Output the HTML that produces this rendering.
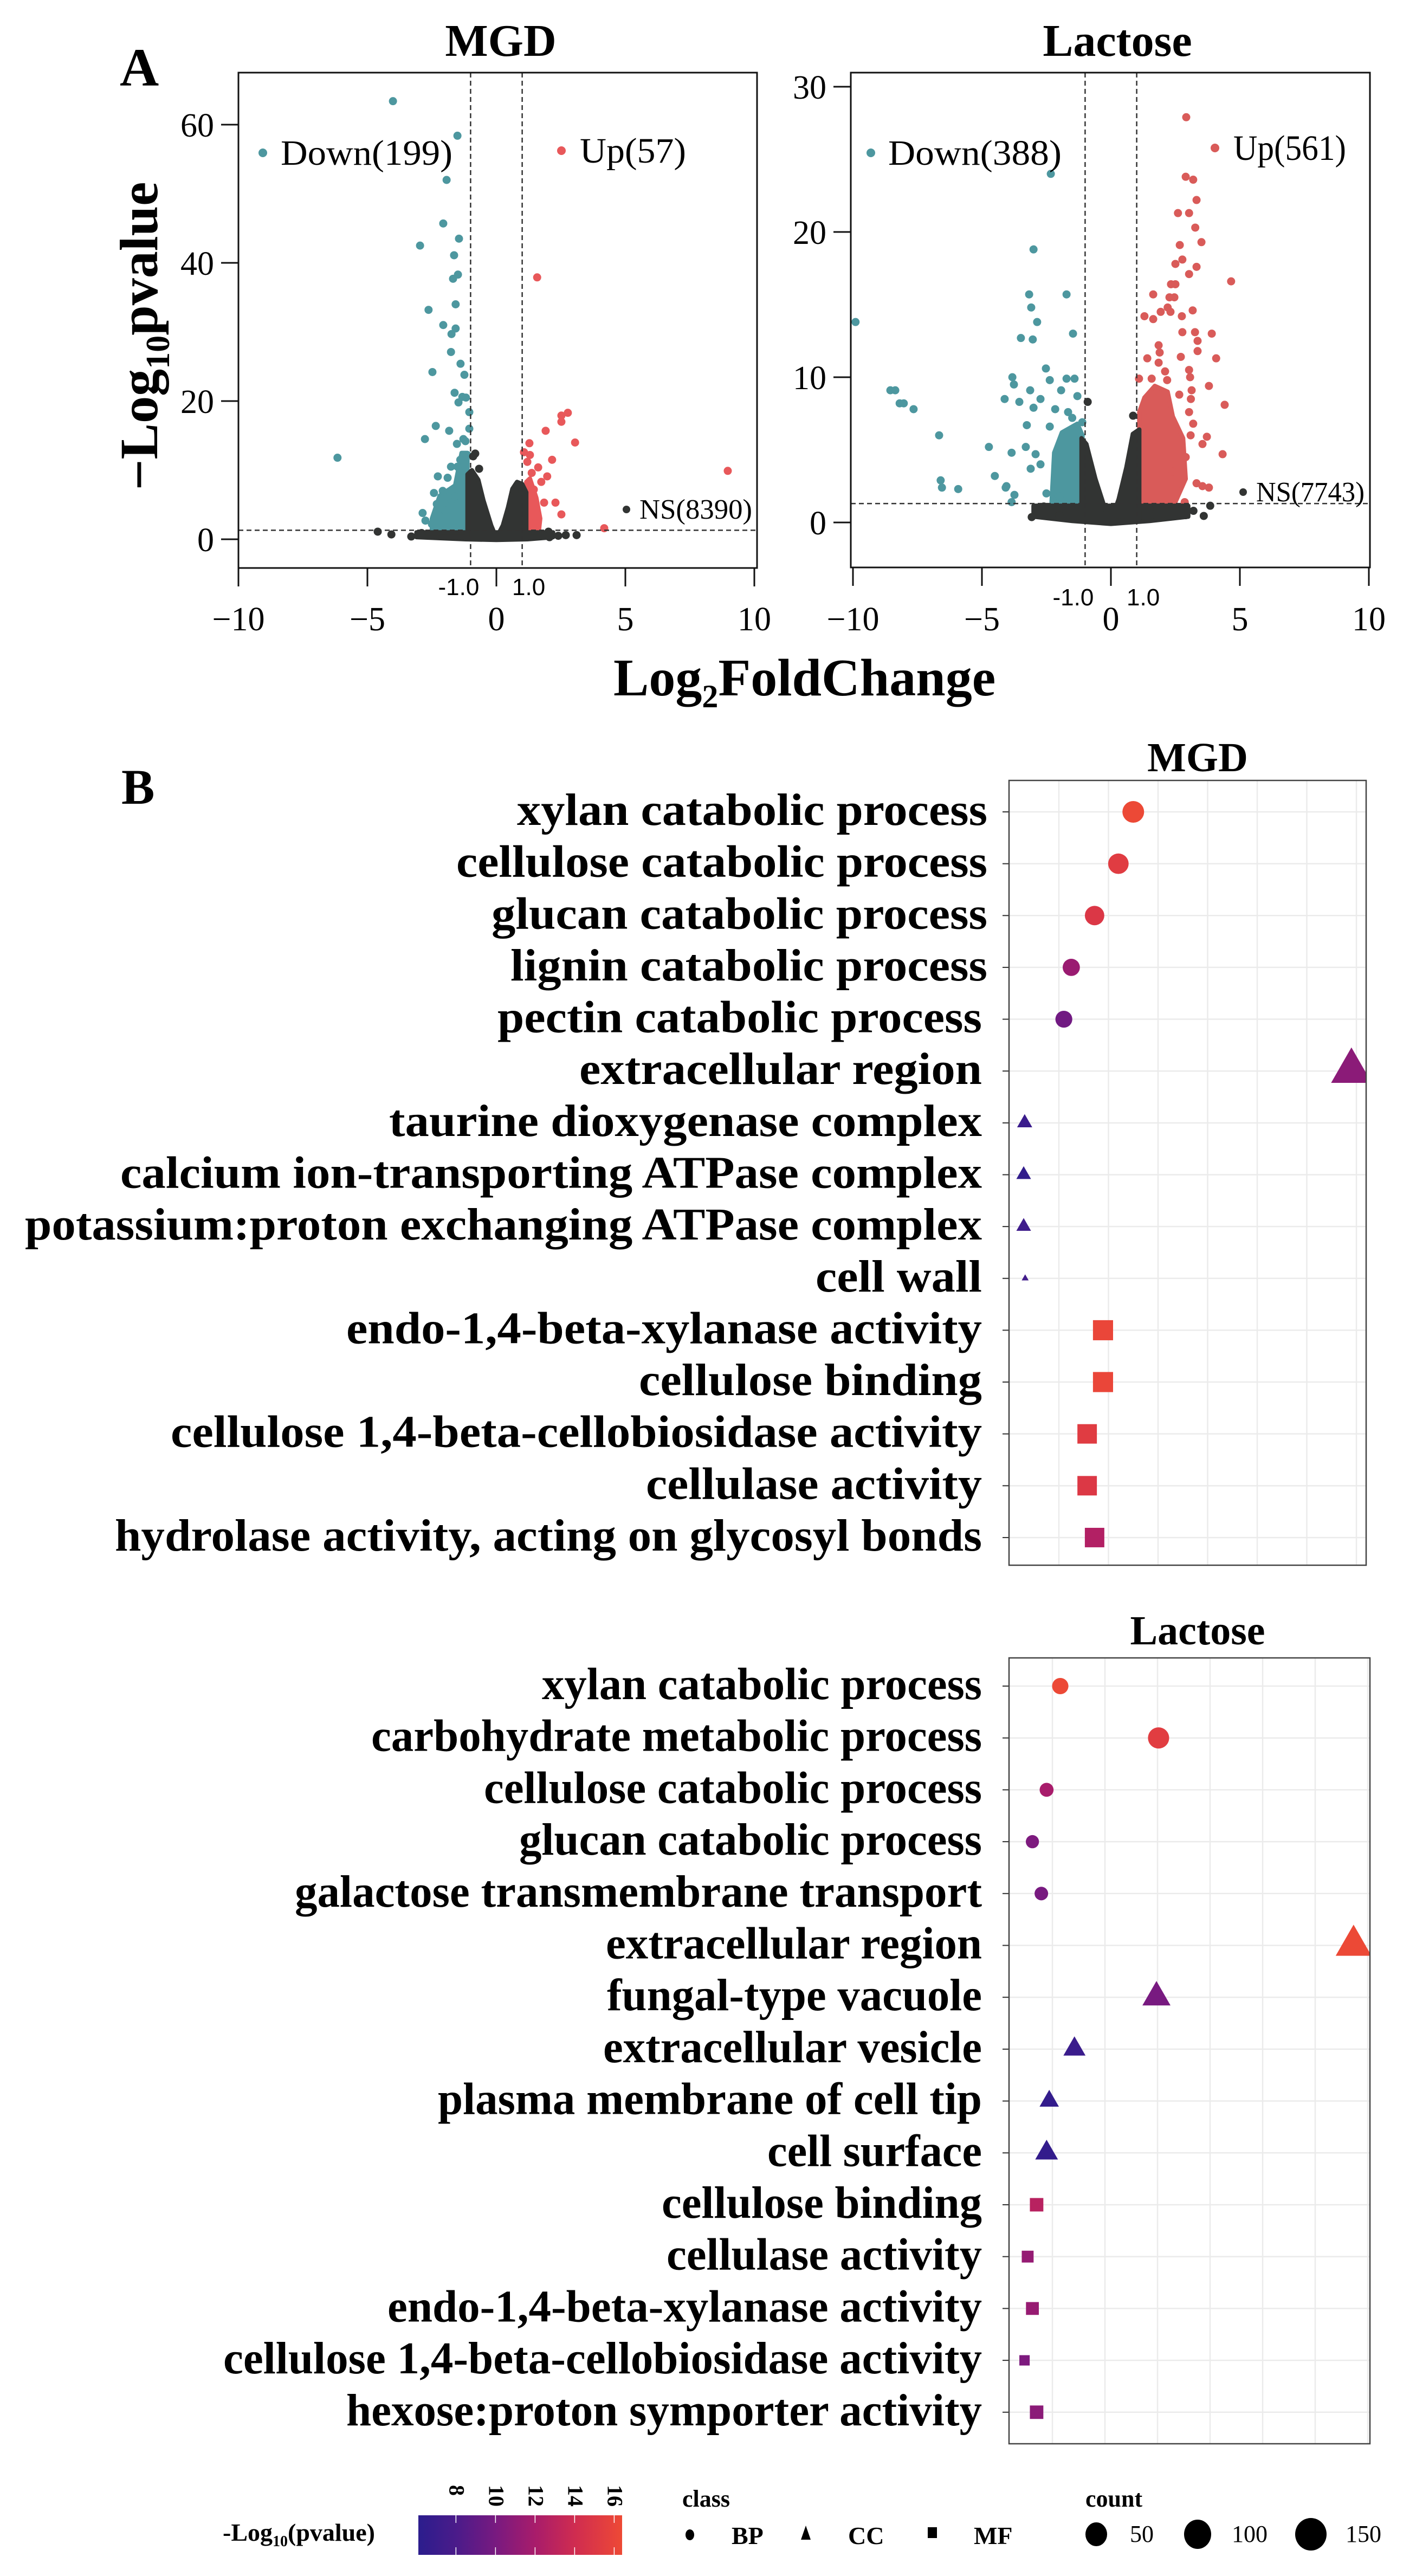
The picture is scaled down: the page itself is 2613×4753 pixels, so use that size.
<!DOCTYPE html>
<html><head><meta charset="utf-8">
<style>
html,body{margin:0;padding:0;background:#fff;}
svg{display:block;font-family:"Liberation Serif",serif;}
</style></head>
<body>
<svg id="fig" width="2613" height="4753" viewBox="0 0 2613 4753" xmlns="http://www.w3.org/2000/svg">
<rect x="0" y="0" width="2613" height="4753" fill="#fff"/>
<text x="221" y="158" font-size="100" font-weight="bold">A</text>
<text x="224" y="1483" font-size="92" font-weight="bold">B</text>
<text x="924" y="103" font-size="84" font-weight="bold" text-anchor="middle">MGD</text>
<text x="2062" y="103" font-size="84" font-weight="bold" text-anchor="middle">Lactose</text>
<text transform="translate(290,620) rotate(-90)" font-size="100" font-weight="bold" text-anchor="middle">−Log<tspan font-size="62" dy="22">10</tspan><tspan dy="-22">pvalue</tspan></text>
<text x="1132" y="1283" font-size="98" font-weight="bold">Log<tspan font-size="60" dy="22">2</tspan><tspan dy="-22">FoldChange</tspan></text>
<text x="2210" y="1423" font-size="76" font-weight="bold" text-anchor="middle">MGD</text>
<text x="2210" y="3034" font-size="76" font-weight="bold" text-anchor="middle">Lactose</text>
<g id="volc"></g>
<g id="dots"></g>
<g id="legend"></g>
</svg>
<script>
// ---------- Volcano data (log2FC, -log10 p) ----------
const mgdDownX=[-4.01,-1.51,-1.93,-2.06,-2.96,-1.45,-1.64,-1.49,-1.68,-1.58,-2.63,-2.06,-1.58,-1.74,-1.76,-1.39,-2.48,-1.24,-1.62,-1.32,-1.18,-1.47,-1.05,-2.35,-1.83,-1.05,-2.77,-1.53,-1.28,-6.16,-1.13,-1.76,-2.27,-1.89,-1.51,-2.42,-2.08,-2.86,-2.75,-2.31,-1.74,-1.2,-1.4,-2.0,-1.6,-2.5,-1.3,-1.15];
const mgdDownY=[63.4,58.4,52,45.7,42.5,43.5,41.1,38.3,37.7,34,33.2,31,30.5,29.7,27.1,25.4,24.2,23.8,21.2,20.6,20.5,19.8,18.4,16.4,15.7,16,14.5,13.8,14.5,11.8,12.2,10.5,9.1,8.9,10.5,6.7,7,3.8,2.7,5.1,5.7,14.2,11.5,4.2,6.2,2.2,9.5,3.5];
const mgdUpX=[1.58,2.77,2.52,2.52,3.05,1.91,1.28,1.07,1.3,2.16,1.62,1.37,1.97,1.74,8.97,1.85,2.29,2.52,4.18,1.49,1.2,1.45,1.15,1.35];
const mgdUpY=[37.9,18.3,17.9,17,14,15.7,13.9,12.6,12.2,11.5,10.4,9.6,9.1,8.3,9.9,5.3,5.3,3.6,1.6,4.7,11.2,7.2,3.5,2.3];
const mgdNsX=[-4.6,-4.07,2.69,3.11,2.02,2.06,-3.0,-0.67,-0.82,-0.9,0.8,0.7,-3.3,-2.9,2.4,1.8];
const mgdNsY=[1.1,0.7,0.6,0.6,1.1,0.3,0.8,10.2,12.4,12.0,7.8,7.0,0.4,0.9,0.5,0.7];
const mgdNsLeftX=[-1.12,-1.12,-0.95,-0.7,-0.5,-0.2,0];
const mgdNsLeftY=[0,9.4,10.0,8.6,5.6,2.0,0.2];
const mgdNsRightX=[0,0.25,0.45,0.62,0.8,1.0,1.16,1.16];
const mgdNsRightY=[0.2,2.0,4.6,7.3,8.3,8.0,6.8,0];
const mgdBandX=[-3.1,2.2,2.2,1.2,0,-1.2,-3.1];
const mgdBandY=[1.0,1.0,0.3,0.0,-0.1,0.0,0.3];
const mgdDownBlobX=[-2.5,-2.5,-2.2,-1.6,-1.35,-1.12,-1.12];
const mgdDownBlobY=[1.3,3.0,6.3,7.8,12.5,12.5,1.3];
const mgdUpBlobX=[1.16,1.16,1.3,1.55,1.7,1.65];
const mgdUpBlobY=[1.3,8.3,8.8,6.0,3.0,1.3];

const lacDownX=[-9.9,-2.33,-3.0,-3.17,-1.72,-3.09,-2.86,-3.49,-3.03,-1.47,-2.52,-3.82,-3.76,-2.37,-1.72,-1.41,-3.13,-1.93,-4.12,-2.73,-3.55,-1.3,-3.0,-2.16,-1.66,-8.55,-8.36,-8.19,-8.03,-7.65,-6.66,-4.73,-6.6,-6.55,-5.92,-4.5,-4.05,-3.74,-3.85,-3.26,-2.37,-3.3,-2.92,-3.85,-3.11,-2.73,-4.08,-1.11,-2.5,-2.0,-1.5];
const lacDownY=[13.8,24,18.8,15.7,15.7,14.8,13.8,12.7,12.6,13,10.6,10,9.5,9.8,9.9,9.9,9.1,9.1,8.5,8.5,8.3,8.7,7.9,7.8,7.6,9.1,9.1,8.2,8.2,7.8,6.0,5.2,2.9,2.4,2.3,3.2,2.5,1.9,1.4,6.7,6.6,5.2,4.7,4.8,3.7,4.0,2.4,6.9,2.0,1.8,7.2];
const lacUpX=[2.92,2.9,3.19,3.32,2.6,3.03,3.27,2.67,3.51,2.77,2.5,3.32,3.03,2.33,2.5,4.66,1.64,2.27,2.46,2.2,2.31,1.93,3.17,1.3,1.64,2.75,2.77,3.26,3.91,3.36,1.85,1.89,3.36,2.71,4.08,1.41,1.85,3.03,2.1,1.09,1.58,2.18,3.07,3.8,3.13,2.65,4.41,3.03,3.19,3.09,3.72,3.55,4.33,3.32,3.55,3.8,2.86,2.4,2.9,3.1];
const lacUpY=[27.9,23.8,23.6,22.2,21.3,21.3,20.3,19.1,19.3,18.1,17.8,17.6,17.1,16.4,16.4,16.6,15.7,15.5,15.5,14.8,14.5,14.5,14.6,14.2,14,14.2,13.1,13.1,13,12.5,12.2,11.7,11.8,11.4,11.3,11.3,11,10.5,10.4,9.9,9.9,9.8,10,9.4,9.1,8.8,8.1,7.6,6.8,6.0,5.9,5.4,4.7,2.7,2.5,2.4,1.4,3.5,4.5,8.5];
const lacNsX=[-3.07,3.85,3.6,-0.9,0.86,-2.6,2.9,3.2,-2.0,1.5];
const lacNsY=[0.37,1.15,0.45,8.3,7.35,1.1,0.5,0.8,0.5,0.9];
const lacNsLeftX=[-1.14,-1.14,-0.95,-0.6,-0.2,0];
const lacNsLeftY=[0.1,5.8,5.4,3.0,0.8,0.1];
const lacNsRightX=[0,0.3,0.6,0.85,1.1,1.1];
const lacNsRightY=[0.1,1.6,3.8,6.1,6.4,0.2];
const lacBandX=[-3.0,3.0,3.0,1.5,0,-1.5,-3.0];
const lacBandY=[1.15,1.15,0.4,0.1,-0.1,0.1,0.4];
const lacDownBlobX=[-2.3,-2.2,-1.9,-1.3,-1.1,-1.1];
const lacDownBlobY=[1.4,4.8,6.2,6.8,6.0,1.4];
const lacUpBlobX=[1.1,1.1,1.3,1.7,2.2,2.4,2.8,2.9,2.5];
const lacUpBlobY=[1.4,7.6,8.6,9.4,9.0,7.3,5.8,3.0,1.4];

const mgdYTicks=[0,20,40,60];
const lacYTicks=[0,10,20,30];
const xTicks=[-10,-5,0,5,10];
const xTickText=["−10","−5","0","5","10"];

// ---------- Dot plot data ----------
const mgdTerms=["xylan catabolic process","cellulose catabolic process","glucan catabolic process","lignin catabolic process","pectin catabolic process","extracellular region","taurine dioxygenase complex","calcium ion-transporting ATPase complex","potassium:proton exchanging ATPase complex","cell wall","endo-1,4-beta-xylanase activity","cellulose binding","cellulose 1,4-beta-cellobiosidase activity","cellulase activity","hydrolase activity, acting on glycosyl bonds"];
const mgdClass=["BP","BP","BP","BP","BP","CC","CC","CC","CC","CC","MF","MF","MF","MF","MF"];
const mgdRatio=[1.5,1.2,0.72,0.25,0.1,5.9,-0.69,-0.71,-0.71,-0.68,0.89,0.89,0.57,0.57,0.72];
const mgdCount=[46,41,37,29,28,115,16,15,15,3.4,49,49,46,46,46];
const mgdPval=[16.3,15.3,14.9,11.4,9.7,10.8,7.0,6.5,7.3,7.5,16.1,16.1,15.3,15.0,12.5];

const lacTerms=["xylan catabolic process","carbohydrate metabolic process","cellulose catabolic process","glucan catabolic process","galactose transmembrane transport","extracellular region","fungal-type vacuole","extracellular vesicle","plasma membrane of cell tip","cell surface","cellulose binding","cellulase activity","endo-1,4-beta-xylanase activity","cellulose 1,4-beta-cellobiosidase activity","hexose:proton symporter activity"];
const lacClass=["BP","BP","BP","BP","BP","CC","CC","CC","CC","CC","MF","MF","MF","MF","MF"];
const lacRatio=[0.15,2.02,-0.11,-0.38,-0.21,5.73,1.98,0.42,-0.06,-0.11,-0.3,-0.47,-0.38,-0.53,-0.3];
const lacCount=[26,44,19,17,18,89,55,34,26,36,22,17,20,13,22];
const lacPval=[16.3,15.4,12.0,10.2,10.0,16.3,10.0,7.0,6.6,6.6,12.8,11.2,11.3,10.2,10.8];

const colorTicks=[8,10,12,14,16];

// ---------- helpers ----------
const NS="http://www.w3.org/2000/svg";
function mk(tag,parent){const e=document.createElementNS(NS,tag);parent.appendChild(e);return e;}
const volcG=document.getElementById('volc');
const dotsG=document.getElementById('dots');
const legG=document.getElementById('legend');

const COL_DOWN="#4d979f",COL_NS="#323433";

function volcano(p){
  const xs=v=>p.x0+v*47.6, ys=v=>p.y0-v*p.ky;
  const g=mk('g',volcG);
  
  
  const cp=mk('clipPath',g); cp.setAttribute('id','clip-'+p.name);
  const cr=mk('rect',cp); cr.setAttribute('x',p.L);cr.setAttribute('y',p.T);cr.setAttribute('width',p.R-p.L);cr.setAttribute('height',p.B-p.T);
  const pg=mk('g',g); pg.setAttribute('clip-path','url(#clip-'+p.name+')');
  
  
  function blob(X,Y,col,nm){
    const pts=X.map((x,i)=>xs(x)+','+ys(Y[i])).join(' ');
    const e=mk('polygon',pg);
    e.setAttribute('points',pts);e.setAttribute('fill',col);e.setAttribute('stroke',col);
    e.setAttribute('stroke-width','8');e.setAttribute('stroke-linejoin','round');
    
    
  }
  function dots(X,Y,col,nm){
    X.forEach((x,i)=>{const c=mk('circle',pg);
      c.setAttribute('cx',xs(x));c.setAttribute('cy',ys(Y[i]));c.setAttribute('r',7.5);c.setAttribute('fill',col);
      
      });
  }
  blob(p.dbX,p.dbY,COL_DOWN,'down-gene-cluster');
  blob(p.ubX,p.ubY,p.upCol,'up-gene-cluster');
  dots(p.dX,p.dY,COL_DOWN,'down-gene-point');
  dots(p.uX,p.uY,p.upCol,'up-gene-point');
  blob(p.bX,p.bY,COL_NS,'ns-gene-band');
  blob(p.lX,p.lY,COL_NS,'ns-gene-cluster-left');
  blob(p.rX,p.rY,COL_NS,'ns-gene-cluster-right');
  dots(p.nX,p.nY,COL_NS,'ns-gene-point');
  [[xs(-1),p.T,xs(-1),p.B,'fc-threshold-neg'],[xs(1),p.T,xs(1),p.B,'fc-threshold-pos'],[p.L,ys(1.3),p.R,ys(1.3),'pvalue-threshold']].forEach(a=>{
    const l=mk('line',g);l.setAttribute('x1',a[0]);l.setAttribute('y1',a[1]);l.setAttribute('x2',a[2]);l.setAttribute('y2',a[3]);
    l.setAttribute('stroke','#333');l.setAttribute('stroke-width','2.5');l.setAttribute('stroke-dasharray','9,6');
    
    
  });
  const bx=mk('rect',g);bx.setAttribute('x',p.L);bx.setAttribute('y',p.T);bx.setAttribute('width',p.R-p.L);bx.setAttribute('height',p.B-p.T);
  bx.setAttribute('fill','none');bx.setAttribute('stroke','#111');bx.setAttribute('stroke-width','3');
  
  
  p.yt.forEach(v=>{
    const t=mk('line',g);t.setAttribute('x1',p.L-32);t.setAttribute('x2',p.L);t.setAttribute('y1',ys(v));t.setAttribute('y2',ys(v));t.setAttribute('stroke','#111');t.setAttribute('stroke-width','3');
    
    
    const tx=mk('text',g);tx.setAttribute('x',p.L-45);tx.setAttribute('y',ys(v)+22);tx.setAttribute('font-size','62');tx.setAttribute('text-anchor','end');tx.textContent=v;
    
    
  });
  xTicks.forEach((v,i)=>{
    const t=mk('line',g);t.setAttribute('x1',xs(v));t.setAttribute('x2',xs(v));t.setAttribute('y1',p.B);t.setAttribute('y2',p.B+34);t.setAttribute('stroke','#111');t.setAttribute('stroke-width','3');
    
    
    const tx=mk('text',g);tx.setAttribute('x',xs(v));tx.setAttribute('y',1163);tx.setAttribute('font-size','62');tx.setAttribute('text-anchor','middle');tx.textContent=xTickText[i];
    
    
  });
  [[-1,'-1.0',-22],[1,'1.0',12]].forEach(a=>{
    const tx=mk('text',g);tx.setAttribute('x',xs(a[0])+a[2]);tx.setAttribute('y',p.fcY);tx.setAttribute('font-size','44');tx.setAttribute('text-anchor','middle');
    tx.setAttribute('font-family','"Liberation Sans",sans-serif');tx.textContent=a[1];
    
    
  });
  p.leg.forEach(a=>{
    const c=mk('circle',g);c.setAttribute('cx',a[0]);c.setAttribute('cy',a[1]);c.setAttribute('r',a[6]);c.setAttribute('fill',a[2]);
    
    
    const tx=mk('text',g);tx.setAttribute('x',a[3]);tx.setAttribute('y',a[1]+a[7]);tx.setAttribute('font-size',a[5]);tx.textContent=a[4];
    tx.setAttribute('textLength',a[8]);tx.setAttribute('lengthAdjust','spacingAndGlyphs');
    
    
  });
}

volcano({name:'mgd',x0:916,y0:995,ky:12.75,L:440,R:1397,T:134,B:1048,fcY:1098,yt:mgdYTicks,upCol:"#e8585a",
  dX:mgdDownX,dY:mgdDownY,uX:mgdUpX,uY:mgdUpY,nX:mgdNsX,nY:mgdNsY,lX:mgdNsLeftX,lY:mgdNsLeftY,rX:mgdNsRightX,rY:mgdNsRightY,
  bX:mgdBandX,bY:mgdBandY,dbX:mgdDownBlobX,dbY:mgdDownBlobY,ubX:mgdUpBlobX,ubY:mgdUpBlobY,
  leg:[[485,282,COL_DOWN,518,'Down(199)',66,8,22,317],[1036,278,"#e8585a",1070,'Up(57)',66,8,22,196],[1156,940,COL_NS,1180,'NS(8390)',52,7,17,208]]});
volcano({name:'lactose',x0:2050,y0:964,ky:26.8,L:1570,R:2528,T:134,B:1047,fcY:1117,yt:lacYTicks,upCol:"#d95b59",
  dX:lacDownX,dY:lacDownY,uX:lacUpX,uY:lacUpY,nX:lacNsX,nY:lacNsY,lX:lacNsLeftX,lY:lacNsLeftY,rX:lacNsRightX,rY:lacNsRightY,
  bX:lacBandX,bY:lacBandY,dbX:lacDownBlobX,dbY:lacDownBlobY,ubX:lacUpBlobX,ubY:lacUpBlobY,
  leg:[[1607,282,COL_DOWN,1639,'Down(388)',66,8,22,320],[2242,273,"#d95b59",2276,'Up(561)',66,8,22,208],[2294,908,COL_NS,2318,'NS(7743)',52,7,17,200]]});

// ---------- color scale ----------
const cStops=[[6.1,[43,29,141]],[8,[74,27,138]],[10,[120,26,128]],[12,[168,28,107]],[14,[207,44,80]],[16,[233,68,58]],[16.4,[237,74,53]]];
function pcol(v){
  v=Math.max(6.1,Math.min(16.4,v));
  for(let i=0;i<cStops.length-1;i++){const a=cStops[i],b=cStops[i+1];
    if(v<=b[0]){const t=(v-a[0])/(b[0]-a[0]);const c=a[1].map((x,k)=>Math.round(x+(b[1][k]-x)*t));return 'rgb('+c.join(',')+')';}}
  return 'rgb(237,74,53)';
}
function shape(parent,cls,cx,cy,count,col){
  let e;
  if(cls==='BP'){const d=5.9*Math.sqrt(count);e=mk('ellipse',parent);e.setAttribute('cx',cx);e.setAttribute('cy',cy);e.setAttribute('rx',d/2);e.setAttribute('ry',d/2);}
  else if(cls==='CC'){const w=7*Math.sqrt(count),h=0.87*w;e=mk('polygon',parent);
    e.setAttribute('points',cx+','+(cy-2*h/3)+' '+(cx-w/2)+','+(cy+h/3)+' '+(cx+w/2)+','+(cy+h/3));}
  else {const s=5.3*Math.sqrt(count);e=mk('rect',parent);e.setAttribute('x',cx-s/2);e.setAttribute('y',cy-s/2);e.setAttribute('width',s);e.setAttribute('height',s);}
  e.setAttribute('fill',col);
  return e;
}

function dotplot(p){
  const g=mk('g',dotsG);
  
  
  const xs=v=>p.xz+v*p.step, ys=i=>p.r0+i*p.rs;
  const bg=mk('rect',g);bg.setAttribute('x',p.L);bg.setAttribute('y',p.T);bg.setAttribute('width',p.R-p.L);bg.setAttribute('height',p.B-p.T);bg.setAttribute('fill','#fff');
  const cp=mk('clipPath',g);cp.setAttribute('id','dclip-'+p.name);
  const cr=mk('rect',cp);cr.setAttribute('x',p.L);cr.setAttribute('y',p.T);cr.setAttribute('width',p.R-p.L);cr.setAttribute('height',p.B-p.T);
  for(let v=0;v<=6;v++){const l=mk('line',g);l.setAttribute('x1',xs(v));l.setAttribute('x2',xs(v));l.setAttribute('y1',p.T);l.setAttribute('y2',p.B);l.setAttribute('stroke','#ebebeb');l.setAttribute('stroke-width','2.5');
    
    }
  p.terms.forEach((t,i)=>{
    const y=ys(i);
    const l=mk('line',g);l.setAttribute('x1',p.L);l.setAttribute('x2',p.R);l.setAttribute('y1',y);l.setAttribute('y2',y);l.setAttribute('stroke','#ebebeb');l.setAttribute('stroke-width','2.5');
    
    
    const tk=mk('line',g);tk.setAttribute('x1',p.L-12);tk.setAttribute('x2',p.L);tk.setAttribute('y1',y);tk.setAttribute('y2',y);tk.setAttribute('stroke','#333');tk.setAttribute('stroke-width','2');
    
    
    const tx=mk('text',g);tx.setAttribute('x',p.lblL[i]);tx.setAttribute('y',y+24);tx.setAttribute('font-size','84');tx.setAttribute('font-weight','bold');
    tx.setAttribute('textLength',p.lblR[i]-p.lblL[i]);tx.setAttribute('lengthAdjust','spacingAndGlyphs');tx.textContent=t;
    
    
  });
  const pg=mk('g',g);pg.setAttribute('clip-path','url(#dclip-'+p.name+')');
  p.terms.forEach((t,i)=>{
    const m=shape(pg,p.cls[i],xs(p.ratio[i]),ys(i),p.count[i],pcol(p.pval[i]));
    
    
  });
  const bx=mk('rect',g);bx.setAttribute('x',p.L);bx.setAttribute('y',p.T);bx.setAttribute('width',p.R-p.L);bx.setAttribute('height',p.B-p.T);bx.setAttribute('fill','none');bx.setAttribute('stroke','#444');bx.setAttribute('stroke-width','2.5');
  
  
}
dotplot({name:'mgd',L:1862,R:2521,T:1440,B:2888,r0:1498,rs:95.64,xz:1954,step:91.5,terms:mgdTerms,cls:mgdClass,ratio:mgdRatio,count:mgdCount,pval:mgdPval,
  lblL:[954,842,907,942,918,1069,718,222,46,1505,639,1179,315,1192,212],
  lblR:[1822,1822,1822,1822,1812,1812,1812,1812,1812,1812,1812,1812,1812,1812,1812]});
dotplot({name:'lactose',L:1862,R:2528,T:3059,B:4509,r0:3111,rs:95.7,xz:1942,step:97,terms:lacTerms,cls:lacClass,ratio:lacRatio,count:lacCount,pval:lacPval,
  lblL:[1000,685,893,958,544,1118,1120,1113,808,1416,1221,1230,715,412,639],
  lblR:[1812,1812,1812,1812,1812,1812,1812,1812,1812,1812,1812,1812,1812,1812,1812]});

// ---------- bottom legend ----------
(function(){
  const cbL=772,cbR=1148,cbT=4641,cbB=4714,vmin=6.1,vmax=16.4;
  const cx=v=>cbL+(v-vmin)/(vmax-vmin)*(cbR-cbL);
  const defs=mk('defs',legG);
  const lg=mk('linearGradient',defs);lg.setAttribute('id','cgrad');
  cStops.forEach(s=>{const st=mk('stop',lg);st.setAttribute('offset',((s[0]-vmin)/(vmax-vmin)*100)+'%');st.setAttribute('stop-color','rgb('+s[1].join(',')+')');});
  const r=mk('rect',legG);r.setAttribute('x',cbL);r.setAttribute('y',cbT);r.setAttribute('width',cbR-cbL);r.setAttribute('height',cbB-cbT);r.setAttribute('fill','url(#cgrad)');
  
  
  colorTicks.forEach(v=>{
    [[cbT,cbT+14],[cbB-14,cbB]].forEach(a=>{const l=mk('line',legG);l.setAttribute('x1',cx(v));l.setAttribute('x2',cx(v));l.setAttribute('y1',a[0]);l.setAttribute('y2',a[1]);l.setAttribute('stroke','#fff');l.setAttribute('stroke-width','1.5');});
    const t=mk('text',legG);t.setAttribute('transform','translate('+(cx(v)-12)+',4585) rotate(90)');t.setAttribute('font-size','40');t.setAttribute('font-weight','bold');t.textContent=v;
    
    
  });
  function txt(x,y,s,str,nm,bold,tl){const t=mk('text',legG);t.setAttribute('x',x);t.setAttribute('y',y);t.setAttribute('font-size',s);if(bold)t.setAttribute('font-weight','bold');
    if(tl){t.setAttribute('textLength',tl);t.setAttribute('lengthAdjust','spacingAndGlyphs');}
    t.innerHTML=str;
    
    return t;}
  txt(411,4688,46,'-Log<tspan font-size="28" dy="10">10</tspan><tspan dy="-10">(pvalue)</tspan>','colorbar-title',true);
  txt(1259,4625,44,'class','class-legend-title',true);
  txt(2003,4625,44,'count','count-legend-title',true);
  const bp=mk('ellipse',legG);bp.setAttribute('cx',1273);bp.setAttribute('cy',4677);bp.setAttribute('rx',8);bp.setAttribute('ry',10);bp.setAttribute('fill','#000');
  
  
  txt(1350,4694,46,'BP','legend-bp',true);
  const cc=mk('polygon',legG);cc.setAttribute('points','1487,4660 1478,4686 1496,4686');cc.setAttribute('fill','#000');
  
  
  txt(1565,4694,46,'CC','legend-cc',true);
  const mf=mk('rect',legG);mf.setAttribute('x',1712);mf.setAttribute('y',4663);mf.setAttribute('width',17);mf.setAttribute('height',20);mf.setAttribute('fill','#000');
  
  
  txt(1797,4694,46,'MF','legend-mf',true);
  [[2023,20,22,2085,'50'],[2210,25,27,2273,'100'],[2419,29,30,2483,'150']].forEach(a=>{
    const e=mk('ellipse',legG);e.setAttribute('cx',a[0]);e.setAttribute('cy',4676);e.setAttribute('rx',a[1]);e.setAttribute('ry',a[2]);e.setAttribute('fill','#000');
    
    
    txt(a[3],4690,44,a[4],'count-legend-label',false);
  });
})();
</script>
</body></html>
